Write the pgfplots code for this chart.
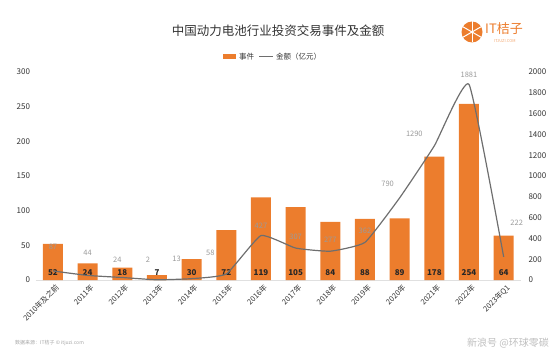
\documentclass[border=0pt]{standalone}
\usepackage{pgfplots}
\pgfplotsset{compat=1.18}
\usepackage{pgfplotstable}
\usepackage{fontspec}
\setmainfont{Noto Sans CJK SC}
\definecolor{barorange}{HTML}{EC7D2D}
\definecolor{linegrey}{HTML}{6E6E6E}
\definecolor{lblgrey}{HTML}{9A9A9A}
\definecolor{txt}{HTML}{333333}
\pgfplotstableread{
x ev amt dx dy
0 52 87 0 24
1 24 44 0 23
2 18 24 -5 18
3 7 2 -9 20
4 30 13 -15 20
5 72 58 -16 21
6 119 427 0 10
7 105 307 0 11
8 84 277 0 11
9 88 362 0 12
10 89 790 -12 14
11 178 1290 -20 12
12 254 1881 0 10
13 64 222 13 34
}\data
\pgfplotsset{
  /pgf/number format/1000 sep={},
  /pgf/number format/assume math mode=true,
}
\begin{document}
\begin{tikzpicture}
\useasboundingbox (0pt,0pt) rectangle (554pt,354pt);
\begin{axis}[
  at={(35.6pt,74pt)}, anchor=south west,
  scale only axis, width=485.4pt, height=208pt,
  xmin=-0.5, xmax=13.5, ymin=0, ymax=300,
  ytick={0,50,...,300},
  xtick={0,...,13},
  xticklabels={2010年及之前,2011年,2012年,2013年,2014年,2015年,2016年,2017年,2018年,2019年,2020年,2021年,2022年,2023年Q1},
  x tick label style={rotate=45, anchor=north east, font=\fontsize{7.5}{8}\selectfont, text=txt, inner sep=1pt, yshift=-3pt},
  y tick label style={font=\fontsize{8}{9}\selectfont, text=txt, xshift=-2pt},
  axis x line*=bottom, axis y line*=left,
  x axis line style={draw=black!12, -},
  y axis line style={draw=none},
  major tick length=0pt,
  clip=false,
]
\addplot[ybar, bar width=20pt, fill=barorange, draw=none, bar shift=0pt] table[x=x, y=ev] {\data};
\addplot[draw=none, mark=none, nodes near coords, point meta=\thisrow{ev},
  every node near coord/.append style={anchor=south, yshift=4.5pt, inner sep=0pt, font=\bfseries\fontsize{8}{9}\selectfont, text=black!85}]
  table[x=x, y expr=0] {\data};
\end{axis}
\begin{axis}[
  at={(35.6pt,74pt)}, anchor=south west,
  scale only axis, width=485.4pt, height=208pt,
  xmin=-0.5, xmax=13.5, ymin=0, ymax=2000,
  ytick={0,200,...,2000},
  axis y line*=right, axis x line=none,
  y axis line style={draw=none},
  y tick label style={font=\fontsize{8}{9}\selectfont, text=txt, xshift=4pt},
  major tick length=0pt,
  clip=false,
]
\addplot[color=linegrey, line width=1.2pt, smooth, tension=0.25, mark=none,
  nodes near coords, point meta=\thisrow{amt},
  visualization depends on={\thisrow{dx}\as\dx},
  visualization depends on={\thisrow{dy}\as\dy},
  every node near coord/.append style={anchor=center, xshift=\dx pt, yshift=\dy pt, font=\fontsize{7.5}{8}\selectfont, text=lblgrey}]
  table[x=x, y=amt] {\data};
\end{axis}
% title
\node[font=\fontsize{12.5}{14}\selectfont, text=txt] at (278pt,323pt) {中国动力电池行业投资交易事件及金额};
% legend
\fill[barorange] (223pt,295pt) rectangle (236pt,300pt);
\node[anchor=west, font=\fontsize{7.5}{8}\selectfont, text=txt, inner sep=0pt] at (239pt,297.5pt) {事件};
\draw[linegrey, line width=1pt] (259pt,297.5pt) -- (273pt,297.5pt);
\node[anchor=west, font=\fontsize{7.5}{8}\selectfont, text=txt, inner sep=0pt] at (276pt,297.5pt) {金额（亿元）};
% logo
\fill[barorange] (472pt,322pt) circle (10.5pt);
\foreach \a in {0,60,...,300} \draw[white, line width=1pt] (472pt,322pt) -- ++(\a+30:10.5pt);
\fill[white] (472pt,322pt) circle (1.5pt);
\node[anchor=west, font=\fontsize{13}{14}\selectfont, text=barorange, inner sep=0pt] at (485pt,325pt) {IT桔子};
\node[anchor=west, font=\fontsize{4}{5}\selectfont, text=barorange!70, inner sep=0pt] at (494pt,312.5pt) {ITJUZI.COM};
% footer
\node[anchor=west, font=\fontsize{5}{6}\selectfont, text=black!35, inner sep=0pt] at (15pt,11pt) {数据来源：IT桔子 © itjuzi.com};
\node[anchor=east, font=\fontsize{10}{11}\selectfont, text=black!25, inner sep=0pt] at (549pt,11pt) {新浪号 @环球零碳};
\end{tikzpicture}
\end{document}
